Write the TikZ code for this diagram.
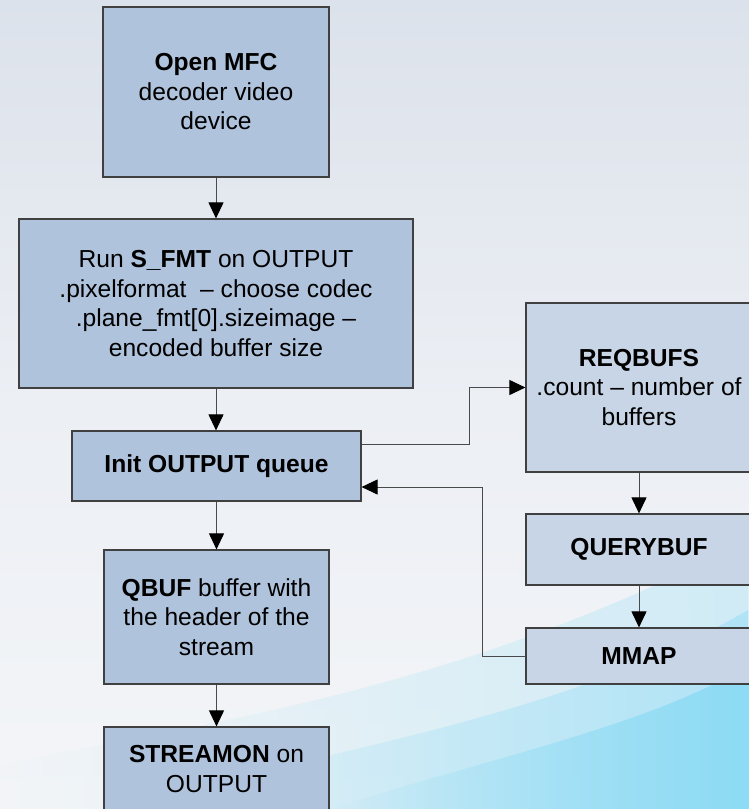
\documentclass[tikz,border=0pt]{standalone}
\usepackage{fontspec}
\setmainfont{Liberation Sans}
\usetikzlibrary{arrows.meta,fadings}

\definecolor{bgTop}{HTML}{DCE2EB}
\definecolor{bgMid}{HTML}{ECEFF4}
\definecolor{bgBot}{HTML}{F3F5F8}
\definecolor{waveA}{HTML}{CDEBF6}
\definecolor{waveB}{HTML}{A9E2F6}
\definecolor{waveC}{HTML}{84D9F4}
\definecolor{boxMain}{HTML}{B0C3DC}
\definecolor{boxSide}{HTML}{C8D5E6}
\definecolor{edgeGray}{HTML}{404040}
\definecolor{lineGray}{HTML}{4A4A4A}

\tikzfading[name=growright, left color=transparent!100, right color=transparent!0]

\tikzset{
  flowbox/.style={draw=edgeGray, line width=1.2pt, fill=boxMain, inner sep=0pt,
    align=center, font=\fontsize{24.6}{29.5}\selectfont},
  sidebox/.style={flowbox, fill=boxSide},
  flowarrow/.style={draw=lineGray, line width=1pt,
    -{Triangle[length=16pt,width=15pt,color=black]}},
}

\begin{document}
\begin{tikzpicture}[x=1pt,y=-1pt]
  \useasboundingbox (0,0) rectangle (749,809);
  \clip (0,0) rectangle (749,809);

  % background wash and waves
  \shade[top color=bgTop, bottom color=bgBot, middle color=bgMid] (0,0) rectangle (749,809);
  \fill[waveA, path fading=growright, opacity=0.9]
    (0,809) -- (0,765) .. controls (220,720) and (460,690) .. (749,540) -- (749,809) -- cycle;
  \fill[waveB, path fading=growright, opacity=0.8]
    (120,809) .. controls (340,745) and (560,720) .. (749,610) -- (749,809) -- cycle;
  \fill[waveC, path fading=growright, opacity=0.8]
    (330,809) .. controls (500,755) and (650,725) .. (749,665) -- (749,809) -- cycle;

  % left column
  \node[flowbox, minimum width=226pt, minimum height=170pt] (open) at (216,92)
    {\textbf{Open MFC}\\decoder video\\device};
  \node[flowbox, minimum width=394pt, minimum height=169pt] (sfmt) at (216,303.5)
    {Run \textbf{S\_FMT} on OUTPUT\\.pixelformat \ -- choose codec\\.plane\_fmt[0].sizeimage --\\encoded buffer size};
  \node[flowbox, minimum width=289pt, minimum height=70pt] (init) at (216.5,466)
    {\textbf{Init OUTPUT queue}};
  \node[flowbox, minimum width=225pt, minimum height=134pt] (qbuf) at (216.5,617)
    {\textbf{QBUF} buffer with\\the header of the\\stream};
  \node[flowbox, minimum width=225pt, minimum height=84pt] (streamon) at (216.5,769)
    {\textbf{STREAMON} on\\OUTPUT};

  % right column
  \node[sidebox, minimum width=226pt, minimum height=169pt] (reqbufs) at (639,387.5)
    {\textbf{REQBUFS}\\.count -- number of\\buffers};
  \node[sidebox, minimum width=226pt, minimum height=71pt] (querybuf) at (639,549.5)
    {\textbf{QUERYBUF}};
  \node[sidebox, minimum width=226pt, minimum height=56pt] (mmap) at (639,656)
    {\textbf{MMAP}};

  % connectors
  \draw[flowarrow] (open.south) -- (open.south |- sfmt.north);
  \draw[flowarrow] (sfmt.south) -- (sfmt.south |- init.north);
  \draw[flowarrow] (init.south) -- (init.south |- qbuf.north);
  \draw[flowarrow] (qbuf.south) -- (streamon.north);
  \draw[flowarrow] ([yshift=22pt]init.east) -- ++(108,0) |- (reqbufs.west);
  \draw[flowarrow] (reqbufs.south) -- (querybuf.north);
  \draw[flowarrow] (querybuf.south) -- (mmap.north);
  \draw[flowarrow] (mmap.west) -- ++(-43,0) |- ([yshift=-21pt]init.east);
\end{tikzpicture}
\end{document}
